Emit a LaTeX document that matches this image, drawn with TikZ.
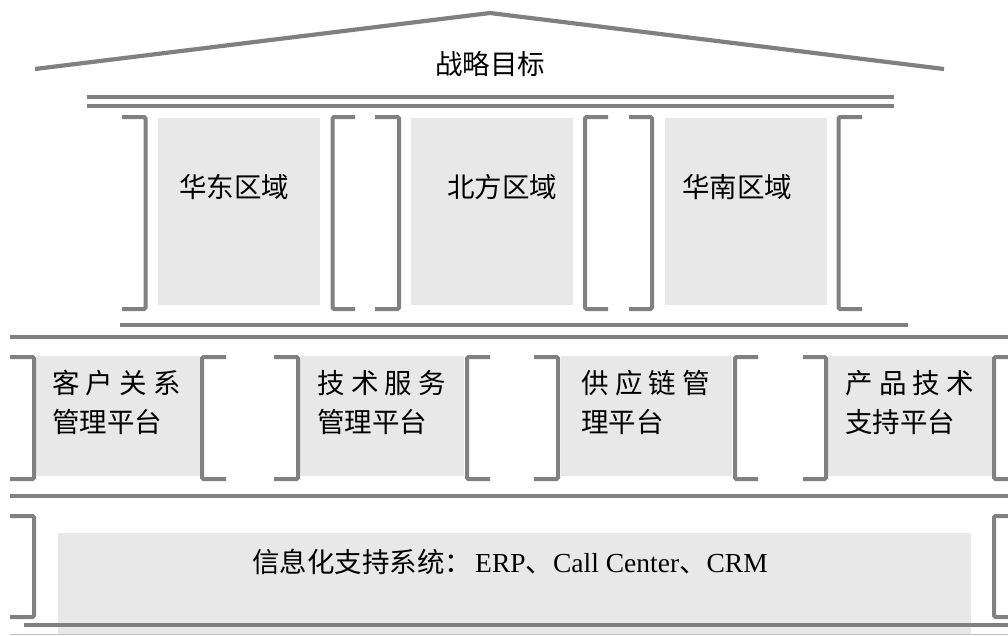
\documentclass[tikz,border=0pt]{standalone}
\usepackage{fontspec}
\setmainfont{Liberation Serif}
\newfontfamily\cjk{Noto Sans CJK SC}
\definecolor{linegray}{RGB}{128,128,128}
\definecolor{panelgray}{RGB}{232,232,232}
\definecolor{thingray}{RGB}{190,190,190}
\tikzset{
  bar/.style={draw=linegray, line width=4.2pt},
  brk/.style={draw=linegray, line width=4pt, rounded corners=1.5pt},
  roof/.style={draw=linegray, line width=4.2pt, line join=round},
  panel/.style={fill=panelgray, draw=none, inner sep=0pt, anchor=north west},
  lbl/.style={font=\fontsize{27.5}{39}\selectfont, anchor=west, inner sep=0pt, align=left},
}
\newcommand{\ls}{\hspace{6.3pt}}
\begin{document}
\begin{tikzpicture}[x=1pt,y=-1pt]
\useasboundingbox (0,0) rectangle (1008,635);
% roof
\coordinate (rl) at (35,69);
\coordinate (rt) at (490,13);
\coordinate (rr) at (944,69);
\draw[roof] (rl) -- (rt) -- (rr);
\node[lbl, anchor=center] (goal) at (490,64) {\cjk 战略目标};
% double bar under roof
\draw[bar] (87,97) -- (894,97);
\draw[bar] (87,106) -- (894,106);
% top panels
\node[panel, minimum width=162pt, minimum height=187pt] (p1) at (158,118) {};
\node[panel, minimum width=162pt, minimum height=187pt] (p2) at (411,118) {};
\node[panel, minimum width=162pt, minimum height=187pt] (p3) at (665,118) {};
\node[lbl] (t1) at (179,187) {\cjk 华东区域};
\node[lbl] (t2) at (447,187) {\cjk 北方区域};
\node[lbl] (t3) at (682,187) {\cjk 华南区域};
% top brackets
\draw[brk] (122,117) -- (145.5,117) -- (145.5,309) -- (122,309);
\draw[brk] (355,117) -- (332.5,117) -- (332.5,309) -- (355,309);
\draw[brk] (375,117) -- (399,117) -- (399,309) -- (375,309);
\draw[brk] (608,117) -- (585,117) -- (585,309) -- (608,309);
\draw[brk] (629,117) -- (652,117) -- (652,309) -- (629,309);
\draw[brk] (862,117) -- (838.5,117) -- (838.5,309) -- (862,309);
% bars
\draw[bar] (120,325) -- (908,325);
\draw[bar] (10,337) -- (1008,337);
% middle panels
\node[panel, minimum width=164pt, minimum height=120pt] (m1) at (36,356) {};
\node[panel, minimum width=164pt, minimum height=120pt] (m2) at (300,356) {};
\node[panel, minimum width=171pt, minimum height=120pt] (m3) at (561,356) {};
\node[panel, minimum width=164pt, minimum height=120pt] (m4) at (828,356) {};
\node[lbl] (s1) at (52,402.5) {\cjk 客\ls 户\ls 关\ls 系\\\cjk 管理平台};
\node[lbl] (s2) at (317,402.5) {\cjk 技\ls 术\ls 服\ls 务\\\cjk 管理平台};
\node[lbl] (s3) at (581,402.5) {\cjk 供\ls 应\ls 链\ls 管\\\cjk 理平台};
\node[lbl] (s4) at (845,402.5) {\cjk 产\ls 品\ls 技\ls 术\\\cjk 支持平台};
% middle brackets
\draw[brk] (10,357) -- (34,357) -- (34,479) -- (10,479);
\draw[brk] (226,357) -- (202,357) -- (202,479) -- (226,479);
\draw[brk] (274,357) -- (298,357) -- (298,479) -- (274,479);
\draw[brk] (490,357) -- (467,357) -- (467,479) -- (490,479);
\draw[brk] (534,357) -- (558,357) -- (558,479) -- (534,479);
\draw[brk] (758,357) -- (735,357) -- (735,479) -- (758,479);
\draw[brk] (803,357) -- (826,357) -- (826,479) -- (803,479);
\draw[brk] (1012,357) -- (994,357) -- (994,479) -- (1012,479);
% bar
\draw[bar] (10,496) -- (1008,496);
% bottom panel
\node[panel, minimum width=913pt, minimum height=102pt] (b1) at (58,533) {};
\node[lbl] (bt) at (252,562) {{\cjk 信息化支持系统：}\kern3pt ERP{\cjk 、}Call Center{\cjk 、}CRM};
\draw[brk] (10,516) -- (34,516) -- (34,617) -- (10,617);
\draw[brk] (1012,516) -- (994,516) -- (994,617) -- (1012,617);
\draw[bar] (24,625) -- (1008,625);
\draw[draw=thingray, line width=1pt] (10,634) -- (1008,634);
\end{tikzpicture}
\end{document}
